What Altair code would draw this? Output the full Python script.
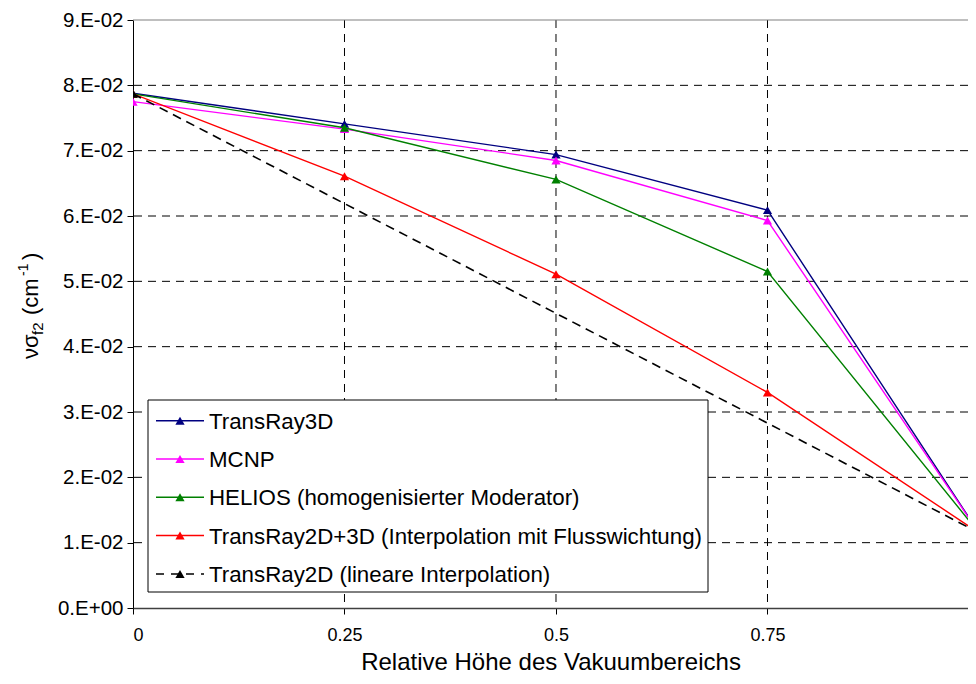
import altair as alt
import pandas as pd

# ---------------- data ----------------
x_vals = [0, 0.25, 0.5, 0.75, 1.0]
transray3d = [0.0788, 0.0741, 0.0694, 0.0609, 0.0115]
mcnp = [0.0775, 0.0733, 0.0685, 0.0593, 0.0115]
helios = [0.0787, 0.0735, 0.0656, 0.0515, 0.0115]
transray2d3d = [0.0787, 0.0661, 0.0511, 0.0330, 0.0115]
lin_x = [0, 1.0]
transray2d_lin = [0.0787, 0.0115]

series_names = [
    "TransRay3D",
    "MCNP",
    "HELIOS (homogenisierter Moderator)",
    "TransRay2D+3D (Interpolation mit Flusswichtung)",
    "TransRay2D (lineare Interpolation)",
]
series_x = [x_vals, x_vals, x_vals, x_vals, lin_x]
series_y = [transray3d, mcnp, helios, transray2d3d, transray2d_lin]
series_colors = ["#000080", "#FF00FF", "#008000", "#FF0000", "#000000"]
series_dashed = [False, False, False, False, True]

y_ticks = [0.0, 0.01, 0.02, 0.03, 0.04, 0.05, 0.06, 0.07, 0.08, 0.09]
x_ticks = [0, 0.25, 0.5, 0.75]
x_title = "Relative Höhe des Vakuumbereichs"

FONT = "Liberation Sans"
W, H = 835, 588
xscale = alt.Scale(domain=[0, 0.987], nice=False, zero=False)
yscale = alt.Scale(domain=[0, 0.09], nice=False, zero=False)

xaxis = alt.Axis(
    values=x_ticks, format=".2~f", grid=False,
    labelFontSize=18, labelFont=FONT, labelColor="black", labelPadding=12,
    tickColor="black", tickSize=6, domainColor="#404040", domainWidth=1.5,
    title=x_title, titleFont=FONT, titleFontSize=24, titleFontWeight="normal",
    titleColor="black", titlePadding=6,
)
yaxis = alt.Axis(
    values=y_ticks, grid=False,
    labelExpr="datum.value == 0 ? '0.E+00' : format(datum.value*100, '.0f') + '.E-02'",
    labelFontSize=20.5, labelFont=FONT, labelColor="black", labelPadding=4,
    tickColor="black", tickSize=6, domainColor="black", domainWidth=1, title=None,
)


def X(field):
    return alt.X(field, type="quantitative", scale=xscale, axis=xaxis)


def Y(field):
    return alt.Y(field, type="quantitative", scale=yscale, axis=yaxis)


layers = []

# grid
hgrid = alt.Chart(pd.DataFrame({"y": y_ticks[1:-1]})).mark_rule(
    color="black", strokeWidth=1, strokeDash=[8, 6]
).encode(y=Y("y"))
vgrid = alt.Chart(pd.DataFrame({"x": x_ticks[1:]})).mark_rule(
    color="black", strokeWidth=1, strokeDash=[8, 6]
).encode(x=X("x"))
top = alt.Chart(pd.DataFrame({"y": y_ticks[-1:]})).mark_rule(
    color="#808080", strokeWidth=1.2
).encode(y=Y("y"))
layers += [hgrid, vgrid, top]

# series
for name, xs, ys, col, dashed in zip(series_names, series_x, series_y, series_colors, series_dashed):
    df = pd.DataFrame({"x": xs, "y": ys})
    lkw = dict(color=col, strokeWidth=1.6 if dashed else 1.4, clip=True)
    if dashed:
        lkw["strokeDash"] = [9, 6]
    line = alt.Chart(df).mark_line(**lkw).encode(x=X("x"), y=Y("y"))
    pts = alt.Chart(df).mark_point(
        shape="triangle-up", filled=True, size=85, color=col, opacity=1, clip=True
    ).encode(x=X("x"), y=Y("y"))
    layers += [line, pts]

# legend (manual)
one = pd.DataFrame({"k": [0]})
layers.append(
    alt.Chart(one).mark_rect(fill="white", stroke="black", strokeWidth=1).encode(
        x=alt.value(15), x2=alt.value(575), y=alt.value(380), y2=alt.value(572)
    )
)
row0, row_step = 400.7, 38.3
for i, (name, col, dashed) in enumerate(zip(series_names, series_colors, series_dashed)):
    ry = row0 + i * row_step
    rkw = dict(color=col, strokeWidth=1.5)
    if dashed:
        rkw["strokeDash"] = [8, 7]
    layers.append(
        alt.Chart(one).mark_rule(**rkw).encode(x=alt.value(23), x2=alt.value(71), y=alt.value(ry))
    )
    layers.append(
        alt.Chart(one).mark_point(shape="triangle-up", filled=True, size=85, color=col, opacity=1).encode(
            x=alt.value(47), y=alt.value(ry)
        )
    )
    layers.append(
        alt.Chart(one).mark_text(
            text=name, align="left", baseline="middle", font=FONT, fontSize=22.3, color="black"
        ).encode(x=alt.value(76), y=alt.value(ry + 1))
    )

# y-axis title with sub/superscripts (rotated pieces)
title_pieces = [
    # text, font size, baseline x, start y
    ("νσ", 22, -95, 339),
    ("f2", 15, -90, 315),
    ("(cm", 22, -95, 295),
    ("-1", 14, -105, 256),
    (")", 22, -95, 240),
]
for txt, fs, bx, sy in title_pieces:
    layers.append(
        alt.Chart(one).mark_text(
            text=txt, angle=270, align="left", baseline="alphabetic", font=FONT, fontSize=fs, color="black"
        ).encode(x=alt.value(bx), y=alt.value(sy))
    )

chart = alt.layer(*layers).properties(
    width=W, height=H,
    autosize=alt.AutoSizeParams(type="none"),
    padding={"left": 125, "top": 12, "right": 0, "bottom": 68},
    background="white",
).configure_view(stroke=None)

chart.save("out.html", embed_options={"renderer": "svg", "actions": False})
